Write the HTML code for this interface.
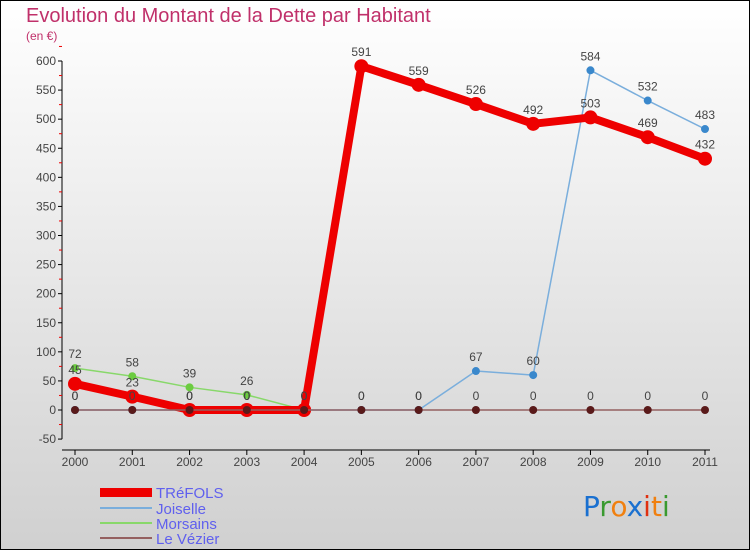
<!DOCTYPE html>
<html><head><meta charset="utf-8"><style>
html,body{margin:0;padding:0}
body{width:750px;height:550px;overflow:hidden;font-family:"Liberation Sans",sans-serif}
</style></head><body>
<svg width="750" height="550" xmlns="http://www.w3.org/2000/svg" id="svg">
<defs><linearGradient id="bg" x1="0" y1="0" x2="0" y2="1"><stop offset="0" stop-color="#ffffff"/><stop offset="1" stop-color="#d0d0d0"/></linearGradient></defs>
<rect x="0.5" y="0.5" width="749" height="549" fill="url(#bg)" stroke="#000"/>
<text x="26" y="22" font-size="20" fill="#c0306a">Evolution du Montant de la Dette par Habitant</text>
<text x="26" y="40" font-size="12" fill="#c0306a">(en €)</text>
<g id="axes"></g><g id="marks"></g>
<g font-size="15" fill="#6060ee">
<rect x="100" y="488" width="52" height="9" fill="#ee0000"/>
<text x="156" y="498">TRéFOLS</text>
<rect x="100" y="507" width="52" height="2" fill="#7aaedc"/>
<text x="156" y="514">Joiselle</text>
<rect x="100" y="522" width="52" height="2" fill="#88d86a"/>
<text x="156" y="529">Morsains</text>
<rect x="100" y="537" width="52" height="2" fill="#946060"/>
<text x="156" y="544">Le Vézier</text>
</g>
<g font-size="28" font-family="DejaVu Sans,sans-serif">
<text x="583" y="516"><tspan fill="#1a70d0">P</tspan><tspan fill="#3a9a30">r</tspan><tspan fill="#f08010">o</tspan><tspan fill="#1a70d0">x</tspan><tspan fill="#e03010">i</tspan><tspan fill="#f08010">t</tspan><tspan fill="#3a9a30">i</tspan></text>
</g>
</svg>
<script>
const years=[2000,2001,2002,2003,2004,2005,2006,2007,2008,2009,2010,2011];
const trefols=[45,23,0,0,0,591,559,526,492,503,469,432];
const joiselle=[0,0,0,0,0,0,0,67,60,584,532,483];
const morsains=[72,58,39,26,0,null,null,null,null,null,null,null];
const vezier=[0,0,0,0,0,0,0,0,0,0,0,0];
const yTicks=[-50,0,50,100,150,200,250,300,350,400,450,500,550,600];
const NS="http://www.w3.org/2000/svg";
const X=i=>75+i*(630/11);
const Y=v=>410-v*(349/600);
function mk(p,t,a){const e=document.createElementNS(NS,t);for(const k in a)e.setAttribute(k,a[k]);p.appendChild(e);return e;}
const ax=document.getElementById('axes'),mg=document.getElementById('marks');
const yl=mk(ax,'line',{x1:62,y1:Y(-50),x2:62,y2:Y(600),stroke:'#000'});


const xl=mk(ax,'line',{x1:62,y1:450,x2:710,y2:450,stroke:'#000'});


yTicks.forEach(v=>{mk(ax,'line',{x1:58,y1:Y(v),x2:62,y2:Y(v),stroke:'#000'});
mk(ax,'line',{x1:59,y1:Y(v+25),x2:62,y2:Y(v+25),stroke:'#e00'});
const t=mk(ax,'text',{x:56,y:Y(v)+4,'text-anchor':'end','font-size':12,fill:'#444'});t.textContent=v;

});
years.forEach((y,i)=>{mk(ax,'line',{x1:X(i),y1:450,x2:X(i),y2:455,stroke:'#000'});
const t=mk(ax,'text',{x:X(i),y:466,'text-anchor':'middle','font-size':12,fill:'#444'});t.textContent=y;

});
function series(name,data,color,w,r,dot){
const g=mk(mg,'g',{});


let d='';data.forEach((v,i)=>{if(v!==null)d+=(d?'L':'M')+X(i)+','+Y(v);});
mk(g,'path',{d:d,fill:'none',stroke:color,'stroke-width':w,'stroke-linejoin':'round'});
data.forEach((v,i)=>{if(v===null)return;
const c=mk(g,'circle',{cx:X(i),cy:Y(v),r:r,fill:dot});


const t=mk(g,'text',{x:X(i),y:Y(v)-10,'text-anchor':'middle','font-size':12,fill:'#444'});t.textContent=v;

});
}
series('morsains',morsains,'#88d86a',1.5,4,'#6ccc40');
series('joiselle',joiselle,'#7aaedc',1.5,4,'#3a88cc');
series('trefols',trefols,'#ee0000',8,7,'#ee0000');
series('le-vezier',vezier,'#946060',1.5,4,'#5a1a1a');
</script>
</body></html>
